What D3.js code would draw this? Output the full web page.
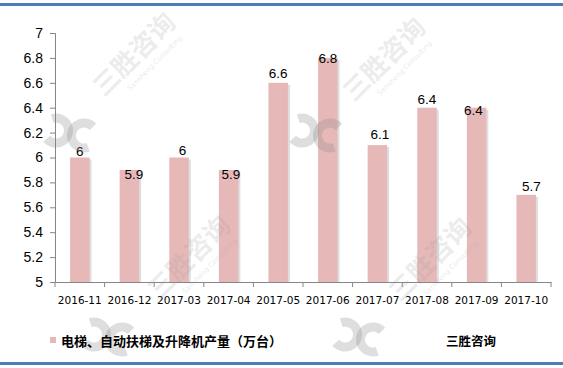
<!DOCTYPE html>
<html><head><meta charset="utf-8">
<script src="https://cdn.jsdelivr.net/npm/d3@7"></script>
<style>body{margin:0;background:#fff;}svg{display:block;}</style>
</head><body>
<svg id="c" width="563" height="368"></svg>
<script>
const categories = ["2016-11","2016-12","2017-03","2017-04","2017-05","2017-06","2017-07","2017-08","2017-09","2017-10"];
const values = [6, 5.9, 6, 5.9, 6.6, 6.8, 6.1, 6.4, 6.4, 5.7];
const yTicks = [5, 5.2, 5.4, 5.6, 5.8, 6, 6.2, 6.4, 6.6, 6.8, 7];
const seriesName = "电梯、自动扶梯及升降机产量（万台）";
const brand = "三胜咨询";
const watermarkText = "三胜咨询";
const watermarkSub = "Sansheng Consulting";

(function(){
const svg = d3.select("#c");
const font = "'Microsoft YaHei','Noto Sans CJK SC','DejaVu Sans',sans-serif";
const pL = 55, pR = 551, pT = 33, pB = 282;

// borders
svg.append("rect").attr("x",0).attr("y",3).attr("width",563).attr("height",3).attr("fill","#4a7ebb");
svg.append("rect").attr("x",0).attr("y",362).attr("width",563).attr("height",3).attr("fill","#4a7ebb");

const x = d3.scaleBand().domain(categories).range([pL, pR]);
const y = d3.scaleLinear().domain([5, 7]).range([pB, pT]);

// y axis
const ya = svg.append("g").attr("transform",`translate(${pL},0)`)
  .call(d3.axisLeft(y).tickValues(yTicks).tickSize(5).tickPadding(7).tickFormat(d => String(+d.toFixed(1))));
ya.select(".domain").attr("stroke","#868686");
ya.selectAll(".tick line").attr("stroke","#868686");
ya.selectAll("text").attr("font-family","'Liberation Sans','DejaVu Sans',sans-serif").attr("font-size",14).attr("fill","#000");

// x axis
const xa = svg.append("g").attr("transform",`translate(0,${pB})`)
  .call(d3.axisBottom(x).tickSize(0).tickPadding(15));
xa.select(".domain").attr("stroke","#868686");
xa.selectAll("text").attr("font-family","'DejaVu Sans',sans-serif").attr("font-size",10.5).attr("fill","#000");
const bounds = categories.map(c => x(c)).concat([pR]);
svg.append("g").selectAll("line").data(bounds).join("line")
  .attr("x1",d=>d).attr("x2",d=>d).attr("y1",pB).attr("y2",pB+5).attr("stroke","#868686");

// bars
const bw = 19.5;
const g = svg.append("g");
g.selectAll("rect.sh").data(values).join("rect").attr("class","sh")
  .attr("x",(d,i)=>x(categories[i])+x.bandwidth()/2-bw/2+2)
  .attr("y",d=>y(d)+2).attr("width",bw).attr("height",d=>pB-y(d)-2)
  .attr("fill","#dedede");
g.selectAll("rect.b").data(values).join("rect").attr("class","b")
  .attr("x",(d,i)=>x(categories[i])+x.bandwidth()/2-bw/2)
  .attr("y",d=>y(d)).attr("width",bw).attr("height",d=>pB-y(d))
  .attr("fill","#e6b9b8");

// data labels (Excel auto-placement nudges, relative to bar top centre)
const labelDx = [0, 4.6, 3.4, 2.3, 0, 0, 2.6, 0, -3.3, 5.2];
const labelDy = [-6.5, 4, -7, 4, -10, 0, -11, -8, 3, -9];
g.selectAll("text").data(values).join("text")
  .attr("x",(d,i)=>x(categories[i])+x.bandwidth()/2+labelDx[i])
  .attr("y",(d,i)=>y(d)+labelDy[i]).attr("dy","0.35em").attr("text-anchor","middle")
  .attr("font-family","'Liberation Sans','DejaVu Sans',sans-serif").attr("font-size",13.5)
  .text(d=>d);

// watermarks
const wm = svg.append("g").attr("pointer-events","none");
const wmPos = [[135,55,70,133],[385,60,316,133],[190,258,108,337],[431,260,359,337]];
const arc = d3.arc().innerRadius(8).outerRadius(17);
wmPos.forEach(p=>{
  const t = wm.append("g").attr("transform",`translate(${p[0]},${p[1]}) rotate(-45)`);
  t.append("text").attr("text-anchor","middle").attr("y",8).attr("font-family",font).attr("font-weight","bold")
    .attr("font-size",26).attr("fill","#9a9a9a").attr("fill-opacity",0.2).text(watermarkText);
  t.append("text").attr("text-anchor","middle").attr("y",22).attr("x",8).attr("font-family","'DejaVu Sans',sans-serif")
    .attr("font-size",7).attr("fill","#9a9a9a").attr("fill-opacity",0.25).text(watermarkSub);
  const lg = wm.append("g").attr("transform",`translate(${p[2]},${p[3]}) rotate(-35)`).attr("fill","#8a8a8a").attr("fill-opacity",0.28);
  lg.append("path").attr("transform","translate(-10,-10)").attr("d",arc({startAngle:0.3,endAngle:4.6}));
  lg.append("path").attr("transform","translate(10,10)").attr("d",arc({startAngle:3.4,endAngle:7.7}));
});

// legend
svg.append("rect").attr("x",50).attr("y",337).attr("width",6).attr("height",6).attr("fill","#e6b9b8");
svg.append("text").attr("x",61).attr("y",346).attr("font-family",font).attr("font-size",13).attr("font-weight","bold").text(seriesName);
svg.append("text").attr("x",446).attr("y",346).attr("font-family",font).attr("font-size",12.5).attr("font-weight","bold").text(brand);
})();
</script>
</body></html>
